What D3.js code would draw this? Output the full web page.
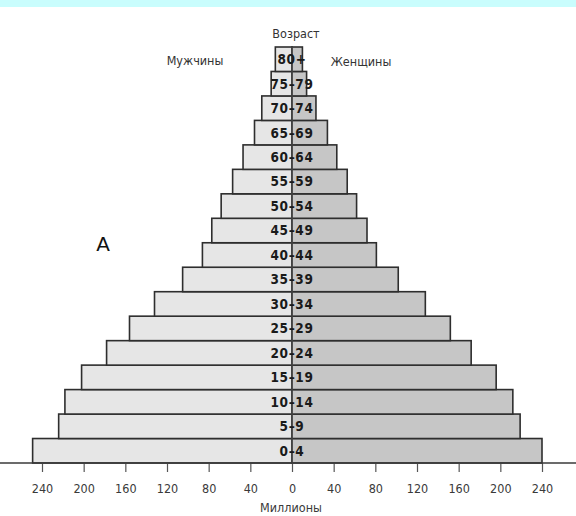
<!DOCTYPE html>
<html>
<head>
<meta charset="utf-8">
<script src="https://cdn.jsdelivr.net/npm/d3@7"></script>
<style>
  html, body { margin: 0; padding: 0; background: #fff; }
  svg { display: block; }
  text { font-family: "DejaVu Sans Condensed", "Liberation Sans Narrow", "DejaVu Sans", sans-serif; }
</style>
</head>
<body>
<svg id="chart" width="576" height="516"></svg>
<script>
const ages = ["0–4","5–9","10–14","15–19","20–24","25–29","30–34","35–39","40–44","45–49","50–54","55–59","60–64","65–69","70–74","75–79","80+"];
const male = [249, 224, 218, 202, 178, 156, 132, 105, 86, 77, 68, 57, 47, 36, 29, 20, 16];
const female = [240, 219, 212, 196, 172, 152, 128, 102, 81, 72, 62, 53, 43, 34, 23, 14, 10];
const tickValues = [-240, -200, -160, -120, -80, -40, 0, 40, 80, 120, 160, 200, 240];
const titleText = "Возраст";
const maleLabel = "Мужчины";
const femaleLabel = "Женщины";
const axisLabel = "Миллионы";
const panelLetter = "A";

const svg = d3.select("#chart");

// top cyan strip
svg.append("rect").attr("x", 0).attr("y", 0).attr("width", 576).attr("height", 7).attr("fill", "#c9fdfd");

const x = d3.scaleLinear().domain([-240, 240]).range([42, 542]);
const y = d3.scaleBand().domain(ages).range([463, 47]).padding(0);
const cx = x(0);

const rows = ages.map((a, i) => ({ age: a, m: male[i], f: female[i] }));

const g = svg.append("g");

// male bars
g.selectAll("rect.m").data(rows).join("rect")
  .attr("class", "m")
  .attr("x", d => x(-d.m))
  .attr("y", d => y(d.age))
  .attr("width", d => cx - x(-d.m))
  .attr("height", y.bandwidth())
  .attr("fill", "#e6e6e6")
  .attr("stroke", "#2e2e2e")
  .attr("stroke-width", 1.6);

// female bars
g.selectAll("rect.f").data(rows).join("rect")
  .attr("class", "f")
  .attr("x", cx)
  .attr("y", d => y(d.age))
  .attr("width", d => x(d.f) - cx)
  .attr("height", y.bandwidth())
  .attr("fill", "#c6c6c6")
  .attr("stroke", "#2e2e2e")
  .attr("stroke-width", 1.6);

// center line
g.append("line")
  .attr("x1", cx).attr("x2", cx)
  .attr("y1", y(ages[ages.length - 1])).attr("y2", 463)
  .attr("stroke", "#555").attr("stroke-width", 0.8);

// age labels
g.selectAll("text.age").data(rows).join("text")
  .attr("class", "age")
  .attr("x", cx)
  .attr("y", d => y(d.age) + y.bandwidth() / 2)
  .attr("dy", "0.36em")
  .attr("text-anchor", "middle")
  .attr("font-size", 13.5)
  .attr("font-weight", "bold")
  .attr("letter-spacing", 0.6)
  .attr("fill", "#1a1a1a")
  .text(d => d.age);

// bottom axis
const axis = d3.axisBottom(x)
  .tickValues(tickValues)
  .tickSize(9)
  .tickPadding(12)
  .tickFormat(d => Math.abs(d));

const ax = svg.append("g").attr("transform", "translate(0,463)").call(axis);
ax.select(".domain").remove();
ax.selectAll(".tick line").attr("stroke", "#555").attr("stroke-width", 1.2);
ax.selectAll(".tick text").attr("font-size", 12.5).attr("fill", "#3a3a3a");

svg.append("line")
  .attr("x1", 0).attr("x2", 576).attr("y1", 463).attr("y2", 463)
  .attr("stroke", "#3a3a3a").attr("stroke-width", 1.6);

// texts
svg.append("text").attr("x", 296).attr("y", 38).attr("text-anchor", "middle")
  .attr("font-size", 12.5).attr("fill", "#333").text(titleText);
svg.append("text").attr("x", 195).attr("y", 65).attr("text-anchor", "middle")
  .attr("font-size", 12.5).attr("fill", "#333").text(maleLabel);
svg.append("text").attr("x", 361).attr("y", 66).attr("text-anchor", "middle")
  .attr("font-size", 12.5).attr("fill", "#333").text(femaleLabel);
svg.append("text").attr("x", 291).attr("y", 512).attr("text-anchor", "middle")
  .attr("font-size", 12.5).attr("fill", "#3a3a3a").text(axisLabel);
svg.append("text").attr("x", 103).attr("y", 251).attr("text-anchor", "middle")
  .attr("font-size", 20).attr("fill", "#111").style("font-family", "'DejaVu Sans', sans-serif").text(panelLetter);
</script>
</body>
</html>
